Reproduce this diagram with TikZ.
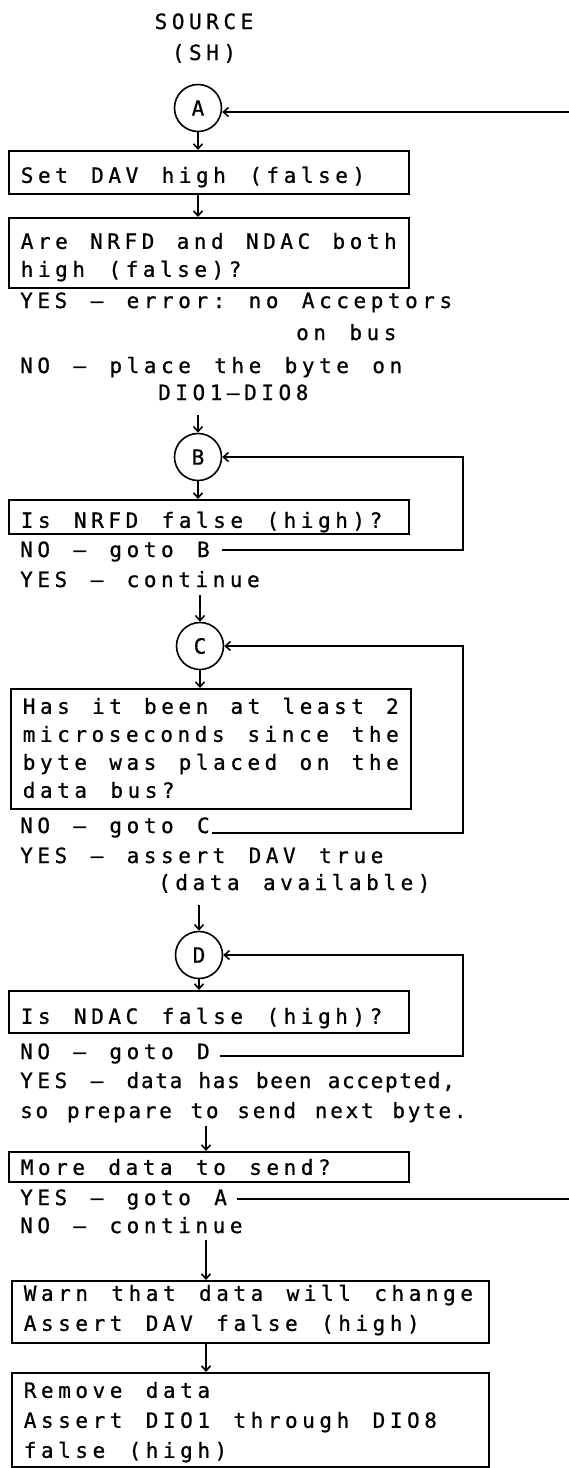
\documentclass[tikz,border=0pt]{standalone}
\usepackage{fontspec}
\setmainfont[LetterSpace=21.7,WordSpace=1.36,FakeBold=0.8]{DejaVu Sans Mono}
\newfontfamily\tightA[LetterSpace=8,WordSpace=1.13,FakeBold=0.8]{DejaVu Sans Mono}
\newfontfamily\tightB[LetterSpace=13,WordSpace=1.22,FakeBold=0.8]{DejaVu Sans Mono}
\newcommand\bxt[4]{\parbox[b][#1pt][t]{#2pt}{\rule{0pt}{#3pt}#4}}
\usetikzlibrary{arrows.meta}
\begin{document}
\begin{tikzpicture}[x=1pt,y=-1pt,
  every node/.style={font=\fontsize{21}{28}\selectfont\frenchspacing},
  txt/.style={anchor=base west, inner sep=0pt},
  box/.style={draw, line width=1.6pt, anchor=north west, inner xsep=12pt, inner ysep=0pt},
  circ/.style={draw, circle, line width=1.6pt, minimum size=47pt, inner sep=0pt},
  arr/.style={-{Straight Barb[length=5pt,width=9pt]}, line width=1.6pt}]
\useasboundingbox (0,0) rectangle (568,1468);
% titles
\node[anchor=base, inner sep=0pt] (src) at (204,29) {SOURCE};
\node[anchor=base, inner sep=0pt] (sh) at (204,60) {(SH)};
% helper x positions
\coordinate (lx) at (463,0);
\coordinate (ex) at (600,0);
\coordinate (ax) at (206,0);
% A
\node[circ] (A) at (198,108) {A};
\node[box] (b1) at (8,150) {\bxt{43}{376}{32}{Set DAV high (false)}};
\node[box] (b2) at (8,217) {\bxt{70}{376}{31}{Are NRFD and NDAC both\\high (false)?}};
\node[txt] (yes1) at (20,308) {YES – error: no Acceptors};
\node[txt] (onbus) at (296,340) {on bus};
\node[txt] (no1) at (20,373) {NO – place the byte on};
\node[txt] (dio) at (158,400) {DIO1–DIO8};
% B
\node[circ] (B) at (198,457) {B};
\node[box] (b3) at (8,499) {\bxt{34}{376}{28}{Is NRFD false (high)?}};
\node[txt] (noB) at (20,557) {NO – goto B};
\node[txt] (yesB) at (20,587) {YES – continue};
% C
\node[circ] (C) at (200,646) {C};
\node[box] (b4) at (10,688) {\bxt{120}{376}{25}{Has it been at least 2\\microseconds since the\\byte was placed on the\\data bus?}};
\node[txt] (noC) at (20,833) {NO – goto C};
\node[txt] (yesC) at (20,863) {YES – assert DAV true};
\node[txt] (avail) at (158,890) {(data available)};
% D
\node[circ] (D) at (199,955) {D};
\node[box] (b5) at (8,990) {\bxt{42}{376}{33}{Is NDAC false (high)?}};
\node[txt] (noD) at (20,1059) {NO – goto D};
\node[txt] (yesD) at (20,1088) {YES – {\tightA data has been accepted,}};
\node[txt] (prep) at (20,1118) {\tightB so prepare to send next byte.};
\node[box] (b6) at (8,1151) {\bxt{30}{376}{23}{More data to send?}};
\node[txt] (yesA) at (20,1205) {YES – goto A};
\node[txt] (noE) at (20,1233) {NO – continue};
\node[box] (b7) at (11,1280) {\bxt{62}{453}{20}{Warn that data will change\\[2pt]Assert DAV false (high)}};
\node[box] (b8) at (11,1372) {\bxt{94}{453}{25}{Remove data\\[2pt]Assert DIO1 through DIO8\\[2pt]false (high)}};
% vertical arrows
\draw[arr] (A.south) -- (A.south |- b1.north);
\draw[arr] (b1.south -| A) -- (b2.north -| A);
\draw[arr] ([yshift=-15pt]dio.base -| B) -- (B.north);
\draw[arr] (B.south) -- (B.south |- b3.north);
\draw[arr] ([yshift=-8pt]yesB.base -| C) -- (C.north);
\draw[arr] (C.south) -- (C.south |- b4.north);
\draw[arr] ([yshift=-15pt]avail.base -| D) -- (D.north);
\draw[arr] (D.south) -- (D.south |- b5.north);
\draw[arr] ([yshift=-8pt]prep.base -| ax) -- (b6.north -| ax);
\draw[arr] ([yshift=-7pt]noE.base -| ax) -- (b7.north -| ax);
\draw[arr] (b7.south -| ax) -- (b8.north -| ax);
% loops
\draw[arr] ([xshift=12pt,yshift=7pt]noB.base east) -- ([yshift=7pt]noB.base east -| lx) |- (B.east);
\draw[arr] ([xshift=2pt]noC.base east) -- (noC.base east -| lx) |- (C.east);
\draw[arr] ([xshift=10pt,yshift=3pt]noD.base east) -- ([yshift=3pt]noD.base east -| lx) |- (D.east);
\draw[arr] ([xshift=10pt,yshift=6pt]yesA.base east) -- ([yshift=6pt]yesA.base east -| ex) |- ([yshift=-4pt]A.east);
\end{tikzpicture}
\end{document}
